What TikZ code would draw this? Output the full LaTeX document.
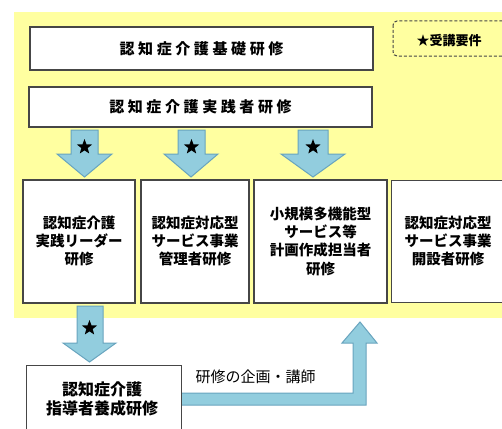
\documentclass[tikz,border=0pt]{standalone}
\usepackage{fontspec}
\newfontfamily\cjk{Noto Sans CJK JP}
\usetikzlibrary{shapes.geometric}
\definecolor{bgyellow}{RGB}{255,255,160}
\definecolor{arrowfill}{RGB}{146,205,222}
\definecolor{arrowline}{RGB}{104,164,190}
\definecolor{boxline}{RGB}{70,70,70}
\tikzset{
  box/.style={draw=boxline, line width=1.1pt, fill=white, align=center, inner sep=0pt},
  boxtext/.style={font=\cjk\bfseries\fontsize{14.5}{18}\selectfont},
  titletext/.style={font=\cjk\bfseries\fontsize{15}{18}\selectfont\addfontfeature{LetterSpace=24}},
  blockarrow/.style={fill=arrowfill, draw=arrowline, line width=1pt, line join=miter},
  starmark/.style={star, star points=5, star point ratio=2.4, fill=black, inner sep=0pt, minimum size=16pt}
}
\begin{document}
\begin{tikzpicture}[x=1pt,y=-1pt]
\useasboundingbox (0,0) rectangle (502,428);
\begin{scope}
\clip (0,0) rectangle (502,428);
% background
\fill[bgyellow] (14,12) rectangle (520,318);
% title boxes
\node[box, minimum width=343pt, minimum height=43pt, titletext] (basic) at (201.5,48.5) {認知症介護基礎研修};
\node[box, minimum width=343pt, minimum height=40pt, titletext] (prac) at (200.5,107) {認知症介護実践者研修};
% legend
\draw[boxline, line width=1pt, dashed, dash pattern=on 3pt off 2pt, rounded corners=4pt] (393,21) rectangle (520,56);
\node[font=\cjk\bfseries\fontsize{13}{15}\selectfont] (legend) at (449,41) {★受講要件};
% row boxes
\node[box, minimum width=112pt, minimum height=123pt, boxtext] (lead) at (79,241.5) {認知症介護\\実践リーダー\\研修};
\node[box, minimum width=108pt, minimum height=123pt, boxtext] (mgr) at (195,241.5) {認知症対応型\\サービス事業\\管理者研修};
\node[box, minimum width=133pt, minimum height=123pt, boxtext] (plan) at (320.5,241.5) {小規模多機能型\\サービス等\\計画作成担当者\\研修};
\node[box, minimum width=124pt, minimum height=122pt, anchor=north west] (open) at (391,180) {};
\node[boxtext, align=center] (opentext) at (448,241.5) {認知症対応型\\サービス事業\\開設者研修};
% down arrows
\draw[blockarrow] (71,130) -- (98,130) -- (98,154) -- (112,154) -- (84.5,177) -- (57,154) -- (71,154) -- cycle;
\node[starmark] (s1) at (84.5,147) {};
\draw[blockarrow] (178,130) -- (205,130) -- (205,154) -- (218,154) -- (191,177) -- (164,154) -- (178,154) -- cycle;
\node[starmark] (s2) at (191.5,147) {};
\draw[blockarrow] (298,130) -- (328,130) -- (328,154) -- (345,154) -- (313,177) -- (281,154) -- (298,154) -- cycle;
\node[starmark] (s3) at (313,147) {};
% bottom box
\node[box, minimum width=155pt, minimum height=80pt, anchor=north west] (trainer) at (26,365) {};
\node[font=\cjk\bfseries\fontsize{16}{19}\selectfont, align=center] (trainertext) at (102,398.5) {認知症介護\\指導者養成研修};
% arrow to trainer
\draw[blockarrow] (77,306) -- (103,306) -- (103,343) -- (116,343) -- (89.5,362) -- (63,343) -- (77,343) -- cycle;
\node[starmark] (s4) at (89.5,328) {};
% elbow arrow
\draw[blockarrow] (trainer.east |- 0,393) -- (353,393) -- (353,343) -- (342,343) -- (360,322) -- (377,343) -- (366,343) -- (366,405) -- (trainer.east |- 0,405);
\node[font=\cjk\fontsize{15}{17}\selectfont] (lbl) at (255.5,377) {研修の企画・講師};
\end{scope}
\end{tikzpicture}
\end{document}
